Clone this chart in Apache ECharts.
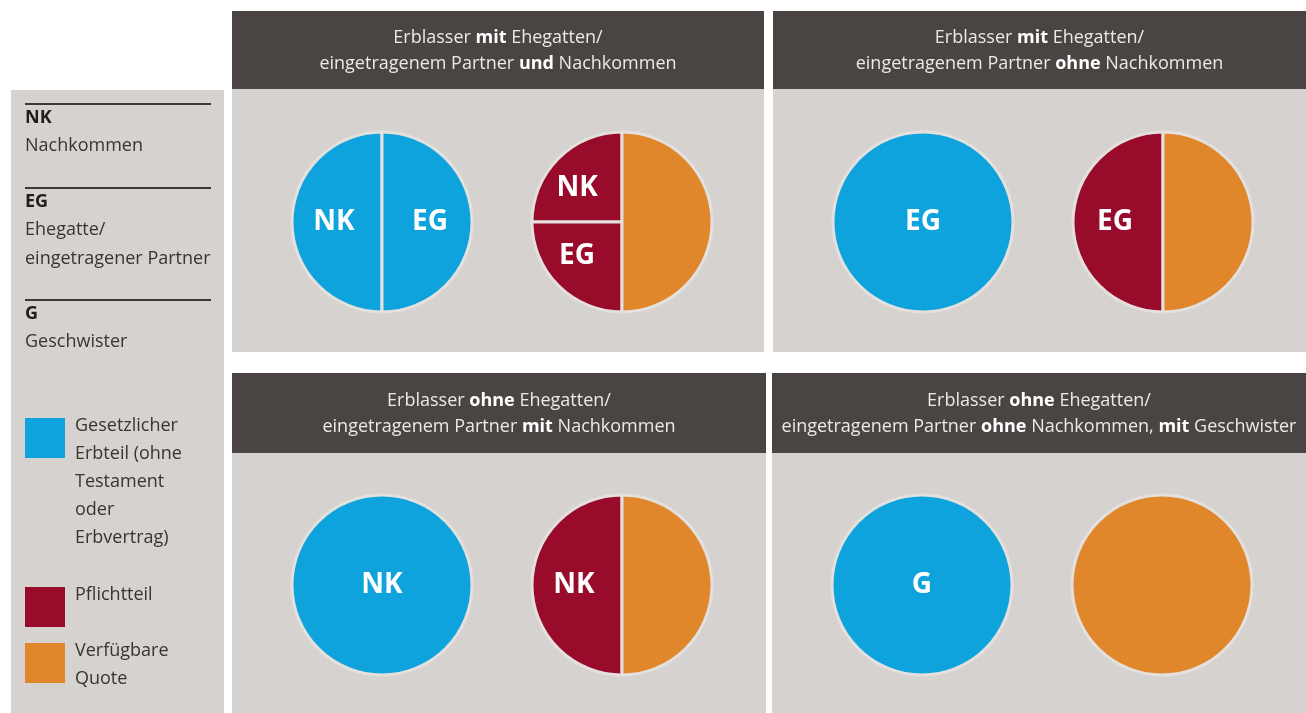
<!DOCTYPE html>
<html lang="de">
<head>
<meta charset="UTF-8">
<title>Erbteile</title>
<script src="https://cdn.jsdelivr.net/npm/echarts@6/dist/echarts.min.js"></script>
<style>
  html, body { margin: 0; padding: 0; background: #fff; }
  #chart { width: 1306px; height: 713px; }
</style>
</head>
<body>
<div id="chart"></div>
<script>
// Legende: Kategorien und Abkürzungen
const categories = ['Gesetzlicher Erbteil (ohne Testament oder Erbvertrag)', 'Pflichtteil', 'Verfügbare Quote'];
const categoryLines = [['Gesetzlicher', 'Erbteil (ohne', 'Testament', 'oder', 'Erbvertrag)'], ['Pflichtteil'], ['Verfügbare', 'Quote']];
const abbreviations = ['NK', 'EG', 'G'];
const abbreviationNames = [['Nachkommen'], ['Ehegatte/', 'eingetragener Partner'], ['Geschwister']];

// Titel der vier Fälle: Zeilen aus [Text, fett]
const scenarioTitles = [
  [[['Erblasser ', 0], ['mit', 1], [' Ehegatten/', 0]], [['eingetragenem Partner ', 0], ['und', 1], [' Nachkommen', 0]]],
  [[['Erblasser ', 0], ['mit', 1], [' Ehegatten/', 0]], [['eingetragenem Partner ', 0], ['ohne', 1], [' Nachkommen', 0]]],
  [[['Erblasser ', 0], ['ohne', 1], [' Ehegatten/', 0]], [['eingetragenem Partner ', 0], ['mit', 1], [' Nachkommen', 0]]],
  [[['Erblasser ', 0], ['ohne', 1], [' Ehegatten/', 0]], [['eingetragenem Partner ', 0], ['ohne', 1], [' Nachkommen, ', 0], ['mit', 1], [' Geschwister', 0]]]
];

// Anteile in Prozent
const legalHeirs = [['NK', 'EG'], ['EG'], ['NK'], ['G']];
const legalShares = [[50, 50], [100], [100], [100]];
const reservedHeirs = [['NK', 'EG'], ['EG'], ['NK'], []];
const reservedShares = [[25, 25], [50], [50], []];
const freeShares = [50, 50, 50, 100];

const COLORS = ['#0ea3dd', '#990b2b', '#e0862b'];
const FONT = '"Open Sans", "Noto Sans", sans-serif';
const HEADER = '#4a4542';
const PANEL = '#d6d2d0';

// Panels (x, y, Breite, Kopf, Höhe)
const panels = [
  { x: 232, y: 11, w: 532, head: 78, h: 341 },
  { x: 773, y: 11, w: 533, head: 78, h: 341 },
  { x: 232, y: 373, w: 534, head: 80, h: 340 },
  { x: 772, y: 373, w: 534, head: 80, h: 340 }
];
const pieY = [222, 222, 585, 585];

const graphics = [];

// Legendenfeld links
graphics.push({ type: 'rect', shape: { x: 11, y: 90, width: 213, height: 623 }, style: { fill: PANEL } });

const groupTops = [104, 188, 300];
abbreviations.forEach((ab, i) => {
  const top = groupTops[i];
  graphics.push({ type: 'line', shape: { x1: 25, y1: top, x2: 211, y2: top }, style: { stroke: '#3d3835', lineWidth: 2 } });
  graphics.push({ type: 'text', style: { text: ab, x: 25, y: top + 14, fill: '#221d1b', font: 'bold 18px ' + FONT, verticalAlign: 'middle' } });
  abbreviationNames[i].forEach((t, k) => {
    graphics.push({ type: 'text', style: { text: t, x: 25, y: top + 42 + k * 29, fill: '#3a3431', font: '18px ' + FONT, verticalAlign: 'middle' } });
  });
});

const swatchTops = [418, 587, 643];
categories.forEach((c, i) => {
  const top = swatchTops[i];
  graphics.push({ type: 'rect', shape: { x: 25, y: top, width: 40, height: 40 }, style: { fill: COLORS[i] } });
  categoryLines[i].forEach((t, k) => {
    graphics.push({ type: 'text', style: { text: t, x: 75, y: top + 8 + k * 28, fill: '#3a3431', font: '18px ' + FONT, verticalAlign: 'middle' } });
  });
});

// Panels mit Kopfzeile
panels.forEach((p, i) => {
  graphics.push({ type: 'rect', shape: { x: p.x, y: p.y + p.head, width: p.w, height: p.h - p.head }, style: { fill: PANEL } });
  graphics.push({ type: 'rect', shape: { x: p.x, y: p.y, width: p.w, height: p.head }, style: { fill: HEADER } });
  const text = scenarioTitles[i].map(line => line.map(([s, b]) => '{' + (b ? 'b' : 'n') + '|' + s + '}').join('')).join('\n');
  graphics.push({
    type: 'text',
    style: {
      text: text, x: p.x + p.w / 2, y: p.y + p.head / 2 + 1, align: 'center', verticalAlign: 'middle',
      rich: {
        n: { fill: '#ece9e6', fontFamily: FONT, fontSize: 18, lineHeight: 26 },
        b: { fill: '#ffffff', fontFamily: FONT, fontSize: 18, fontWeight: 'bold', lineHeight: 26 }
      }
    }
  });
});

const pieBase = {
  type: 'pie',
  radius: [0, 90],
  startAngle: 90,
  clockwise: false,
  silent: true,
  animation: false,
  avoidLabelOverlap: false,
  labelLine: { show: false },
  itemStyle: { borderColor: '#e3e0de', borderWidth: 3 },
  label: { show: true, position: 'inside', color: '#fff', fontFamily: FONT, fontSize: 28, fontWeight: 'bold' }
};

const series = [];
panels.forEach((p, i) => {
  const cy = pieY[i];
  series.push(Object.assign({}, pieBase, {
    name: categories[0],
    center: [p.x + 150, cy],
    data: legalHeirs[i].map((h, j) => ({
      name: h, value: legalShares[i][j], itemStyle: { color: COLORS[0] },
      label: legalShares[i][j] === 100 ? { position: 'center' } : {}
    }))
  }));
  const data = reservedHeirs[i].map((h, j) => ({ name: h, value: reservedShares[i][j], itemStyle: { color: COLORS[1] } }));
  data.push({ name: categories[2], value: freeShares[i], itemStyle: { color: COLORS[2] }, label: { show: false } });
  const s = Object.assign({}, pieBase, { name: categories[1], center: [p.x + 390, cy], data: data });
  if (reservedHeirs[i].length > 1) s.labelLayout = () => ({ dx: -11 });
  series.push(s);
});

const chart = echarts.init(document.getElementById('chart'), null, { renderer: 'canvas' });
chart.setOption({
  backgroundColor: '#ffffff',
  animation: false,
  graphic: { elements: graphics },
  series: series
});
</script>
</body>
</html>
